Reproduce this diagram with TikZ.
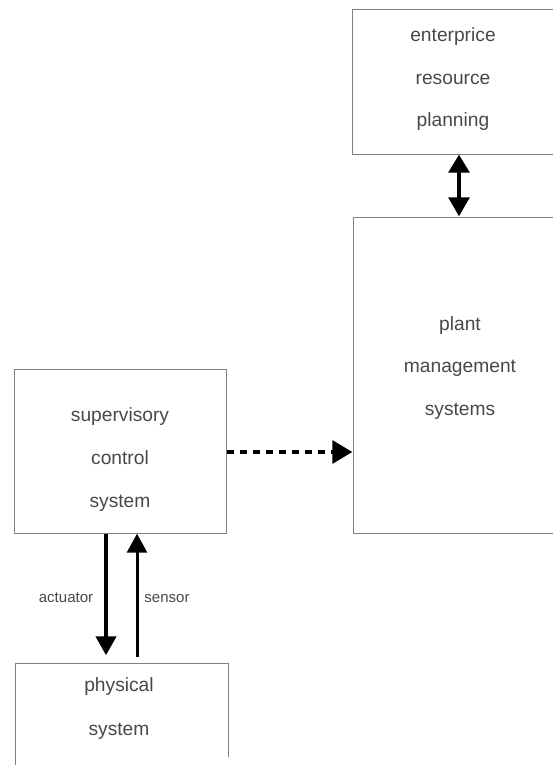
\documentclass[tikz,border=0pt]{standalone}
\usepackage{fontspec}
\setmainfont{Liberation Sans}
\usetikzlibrary{arrows.meta}
\definecolor{txtgray}{HTML}{484848}
\definecolor{boxgray}{HTML}{808080}
\tikzset{
  blockbox/.style={draw=boxgray, line width=1pt},
  boxtext/.style={text=txtgray, font=\fontsize{19.2}{19.2}\selectfont, inner sep=0pt, anchor=base},
  labtext/.style={text=txtgray, font=\fontsize{15}{15}\selectfont, inner sep=0pt, anchor=base},
}
\begin{document}
\begin{tikzpicture}[x=1pt,y=-1pt]
\useasboundingbox (0,0) rectangle (553,765);
\clip (0,0) rectangle (553,765);
% boxes
\draw[blockbox] (352,10) rectangle (600,154);
\draw[blockbox] (353,217) rectangle (600,533);
\draw[blockbox] (14,369) rectangle (226,533);
\draw[blockbox] (15,770) -- (15,663) -- (228,663) -- (228,757);
% anchor nodes for connectors
\node[inner sep=0pt] (erpbot) at (459,154) {};
\node[inner sep=0pt] (pmstop) at (459,217) {};
\node[inner sep=0pt] (pmsleft) at (353,452) {};
\node[inner sep=0pt] (scsright) at (226,452) {};
\node[inner sep=0pt] (scsbotA) at (106,533) {};
\node[inner sep=0pt] (scsbotS) at (137,533) {};
\node[inner sep=0pt] (phytopA) at (106,656) {};
\node[inner sep=0pt] (phytopS) at (137,658) {};
% texts
\node[boxtext] (t1) at (453,42) {enterprice};
\node[boxtext] (t2) at (453,85) {resource};
\node[boxtext] (t3) at (453,127) {planning};
\node[boxtext] (t4) at (460,330) {plant};
\node[boxtext] (t5) at (460,372) {management};
\node[boxtext] (t6) at (460,415) {systems};
\node[boxtext] (t7) at (120,421) {supervisory};
\node[boxtext] (t8) at (120,464) {control};
\node[boxtext] (t9) at (120,507) {system};
\node[boxtext] (t10) at (119,691) {physical};
\node[boxtext] (t11) at (119,735) {system};
\node[labtext] (la) at (66,602) {actuator};
\node[labtext] (ls) at (167,602) {sensor};
% connectors
\draw[line width=3.2pt, {Triangle[length=18pt,width=21pt]}-{Triangle[length=19pt,width=21pt]}] (erpbot) -- (pmstop);
\draw[line width=3.2pt, dash pattern=on 7pt off 6pt, -{Triangle[length=20pt,width=23pt]}] (scsright) -- (pmsleft);
\draw[line width=4.2pt, -{Triangle[length=19pt,width=20pt]}] (scsbotA) -- (phytopA);
\draw[line width=3pt, -{Triangle[length=19pt,width=20pt]}] (phytopS) -- (scsbotS);
\end{tikzpicture}
\end{document}
